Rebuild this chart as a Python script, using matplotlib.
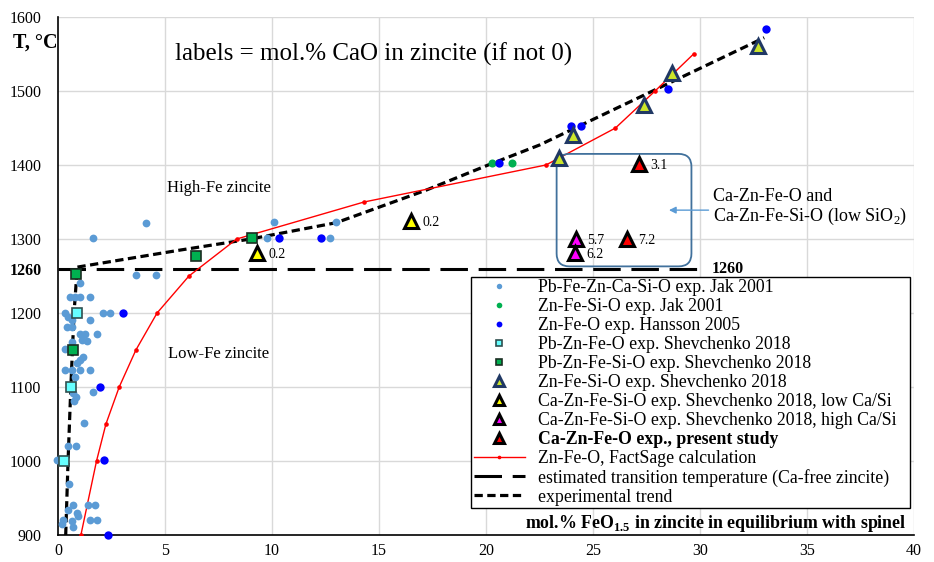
import matplotlib
matplotlib.use("Agg")
import matplotlib.pyplot as plt
from matplotlib.patches import FancyBboxPatch

plt.rcParams['font.family'] = ['Liberation Serif', 'DejaVu Serif']
plt.rcParams['mathtext.fontset'] = 'custom'
plt.rcParams['mathtext.rm'] = 'Liberation Serif'
plt.rcParams['mathtext.bf'] = 'Liberation Serif:bold'

# ---------------- data ----------------
# Pb-Fe-Zn-Ca-Si-O exp. Jak 2001
jak_x = [1.03, 0.56, 0.79, 1.03, 1.50, 0.33, 0.48, 0.64, 2.12, 2.43, 1.50, 0.40, 0.64,
         1.03, 1.26, 1.81, 1.10, 1.34, 0.64, 0.33, 1.18, 1.03, 0.90, 0.33, 0.64, 1.03,
         1.50, 0.79, 1.62, 0.72, 0.84, 0.75, 1.23, 0.48, 0.84, -0.05, 0.53, 0.72, 0.48,
         0.90, 0.95, 1.42, 1.73, 1.50, 1.84, 0.64, 0.25, 0.17, 0.72,
         1.64, 4.13, 3.64, 4.58, 9.75, 10.10, 12.70, 13.00]
jak_y = [1241, 1221, 1221, 1221, 1221, 1200, 1195, 1190, 1200, 1200, 1191, 1181, 1181,
         1171, 1171, 1171, 1163, 1162, 1161, 1152, 1141, 1136, 1132, 1123, 1123, 1123,
         1123, 1114, 1093, 1092, 1086, 1081, 1051, 1020, 1020, 1001, 969, 940, 934,
         930, 926, 940, 940, 920, 920, 919, 920, 915, 911,
         1301, 1322, 1251, 1251, 1301, 1323, 1301, 1323]

# Zn-Fe-Si-O exp. Jak 2001
zfs_jak_x = [20.3, 21.2]
zfs_jak_y = [1403, 1403]

# Zn-Fe-O exp. Hansson 2005
han_x = [2.33, 2.15, 1.96, 3.03, 10.35, 12.3, 20.6, 23.95, 24.45, 28.5, 33.1]
han_y = [900, 1001, 1100, 1200, 1301, 1301, 1403, 1453, 1453, 1503, 1584]

# Pb-Zn-Fe-O exp. Shevchenko 2018
pzf_x = [0.28, 0.60, 0.90]
pzf_y = [1000, 1100, 1200]

# Pb-Zn-Fe-Si-O exp. Shevchenko 2018
pzfs_x = [0.68, 0.84, 6.47, 9.05]
pzfs_y = [1150, 1253, 1277, 1302]

# Zn-Fe-Si-O exp. Shevchenko 2018
zfs_she_x = [23.4, 24.05, 27.4, 28.7, 32.7]
zfs_she_y = [1410, 1440, 1481, 1525, 1561]

# Ca-Zn-Fe-Si-O exp. Shevchenko 2018, low Ca/Si
low_x = [9.3, 16.5]
low_y = [1281, 1324]
low_lab = ["0.2", "0.2"]

# Ca-Zn-Fe-Si-O exp. Shevchenko 2018, high Ca/Si
high_x = [24.2, 24.15]
high_y = [1300, 1281]
high_lab = ["5.7", "6.2"]

# Ca-Zn-Fe-O exp., present study
pres_x = [26.6, 27.15]
pres_y = [1300, 1401]
pres_lab = ["7.2", "3.1"]

# Zn-Fe-O, FactSage calculation
fs_x = [1.07, 1.80, 2.24, 2.86, 3.64, 4.63, 6.12, 8.35, 14.3, 22.8, 26.05, 27.9, 29.7]
fs_y = [900, 1000, 1050, 1100, 1150, 1200, 1250, 1300, 1350, 1400, 1450, 1500, 1550]

# estimated transition temperature
trans_x = [0, 30.1]
trans_y = [1260, 1260]

# experimental trend
trend_x = [0.36, 0.47, 0.60, 0.75, 0.90, 5.7, 9.0, 13.0, 17.2, 20.1, 22.5, 33.0]
trend_y = [900, 1000, 1100, 1200, 1262, 1285, 1300, 1322, 1366, 1400, 1427, 1572]

x_ticks = [0, 5, 10, 15, 20, 25, 30, 35, 40]
y_ticks = [900, 1000, 1100, 1200, 1300, 1400, 1500, 1600]

# ---------------- figure ----------------
fig = plt.figure(figsize=(9.34, 5.62), dpi=100)
ax = fig.add_axes([58/934, 1-535/562, 856/934, 518/562])
ax.set_xlim(0, 40)
ax.set_ylim(900, 1600)
ax.set_xticks(x_ticks)
ax.set_yticks(y_ticks + [1260])
ylabels = [str(v) for v in y_ticks] + ["1260"]
ax.set_yticklabels(ylabels)
ax.tick_params(axis='both', length=0, labelsize=11.5, colors='black')
ax.tick_params(axis='y', pad=12)
ax.tick_params(axis='x', pad=6)
for lab in ax.get_yticklabels():
    if lab.get_text() == "1260":
        lab.set_fontweight('bold')
ax.grid(False)
for v in x_ticks[1:]:
    ax.axvline(v, color='#D9D9D9', lw=1.0, zorder=0)
for v in y_ticks[1:]:
    ax.axhline(v, color='#D9D9D9', lw=1.0, zorder=0)
for s in ['top', 'right']:
    ax.spines[s].set_visible(False)
for s in ['left', 'bottom']:
    ax.spines[s].set_color('black')
    ax.spines[s].set_linewidth(1.2)
    ax.spines[s].set_zorder(1)

# lines
ax.plot(trans_x, trans_y, color='black', lw=2.2, dashes=(9, 3.5), zorder=2,
        label='estimated transition temperature (Ca-free zincite)')
ax.plot(trend_x, trend_y, color='black', lw=2.3, dashes=(2.6, 1.4), zorder=2,
        label='experimental trend')
ax.plot(fs_x, fs_y, color='#FF0000', lw=1.0, marker='o', ms=2.3, zorder=2.5,
        label='Zn-Fe-O, FactSage calculation')

# markers
h1, = ax.plot(jak_x, jak_y, 'o', ms=5.6, color='#5B9BD5', mec='none', zorder=3, clip_on=False,
              label='Pb-Fe-Zn-Ca-Si-O exp. Jak 2001')
h2, = ax.plot(zfs_jak_x, zfs_jak_y, 'o', ms=5.8, color='#00B050', mec='none', zorder=3, clip_on=False,
              label='Zn-Fe-Si-O exp. Jak 2001')
h3, = ax.plot(han_x, han_y, 'o', ms=6.0, color='#0000FF', mec='none', zorder=3.2, clip_on=False,
              label='Zn-Fe-O exp. Hansson 2005')
h4, = ax.plot(pzf_x, pzf_y, 's', ms=7.0, mfc='#66FFFF', mec='#2F4F4F', mew=1.2, zorder=4, clip_on=False,
              label='Pb-Zn-Fe-O exp. Shevchenko 2018')
h5, = ax.plot(pzfs_x, pzfs_y, 's', ms=7.0, mfc='#00B050', mec='#1A2E22', mew=1.2, zorder=4, clip_on=False,
              label='Pb-Zn-Fe-Si-O exp. Shevchenko 2018')
h6, = ax.plot(zfs_she_x, zfs_she_y, '^', ms=9.5, mfc='#CCE62A', mec='#203864', mew=2.2, zorder=4, clip_on=False,
              label='Zn-Fe-Si-O exp. Shevchenko 2018')
h7, = ax.plot(low_x, low_y, '^', ms=9.5, mfc='#FFFF00', mec='black', mew=2.2, zorder=4, clip_on=False,
              label='Ca-Zn-Fe-Si-O exp. Shevchenko 2018, low Ca/Si')
h8, = ax.plot(high_x, high_y, '^', ms=9.5, mfc='#FF00FF', mec='black', mew=2.2, zorder=4, clip_on=False,
              label='Ca-Zn-Fe-Si-O exp. Shevchenko 2018, high Ca/Si')
h9, = ax.plot(pres_x, pres_y, '^', ms=9.5, mfc='#FF0000', mec='black', mew=2.2, zorder=4, clip_on=False,
              label='Ca-Zn-Fe-O exp., present study')

# point labels
for xs, ys, ls in [(low_x, low_y, low_lab), (high_x, high_y, high_lab), (pres_x, pres_y, pres_lab)]:
    for xv, yv, lv in zip(xs, ys, ls):
        ax.annotate(lv, (xv, yv), xytext=(8, -1), textcoords='offset points',
                    ha='left', va='center', fontsize=10, zorder=5)

# rounded box + arrow + text
box = FancyBboxPatch((23.3, 1263), 29.6 - 23.3, 1415 - 1263,
                     boxstyle="round,pad=0,rounding_size=0.6", mutation_aspect=28.9,
                     fc='none', ec='#41719C', lw=1.3, zorder=3)
ax.add_patch(box)
ax.annotate('', xy=(28.55, 1339), xytext=(30.4, 1339),
            arrowprops=dict(arrowstyle='-|>', color='#5B9BD5', lw=1.0,
                            mutation_scale=10, shrinkA=0, shrinkB=0), zorder=3)
ax.text(30.6, 1343, 'Ca-Zn-Fe-O and\nCa-Zn-Fe-Si-O (low SiO$_2$)', fontsize=13,
        ha='left', va='center', linespacing=1.05)
ax.text(30.56, 1260, '1260', fontsize=11.5, fontweight='bold', ha='left', va='center')

ax.text(5.47, 1549, 'labels = mol.% CaO in zincite (if not 0)', fontsize=18, ha='left', va='center')
ax.text(5.1, 1369, 'High-Fe zincite', fontsize=12, ha='left', va='center')
ax.text(5.15, 1145, 'Low-Fe zincite', fontsize=12, ha='left', va='center')
ax.text(39.67, 916, 'mol.% FeO$_{\\mathbf{1.5}}$ in zincite in equilibrium with spinel',
        fontsize=12.9, fontweight='bold', ha='right', va='center')
fig.text(13/934, 1-43/562, 'T, °C', fontsize=14.5, fontweight='bold', ha='left', va='center')

# legend
handles, labels = ax.get_legend_handles_labels()
order = [3, 4, 5, 6, 7, 8, 9, 10, 11, 2, 0, 1]
leg = ax.legend([handles[i] for i in order], [labels[i] for i in order],
                loc='upper left', bbox_to_anchor=(0.483, 0.054, 0.512, 0.444), mode='expand',
                borderaxespad=0,
                fontsize=12.8, markerscale=0.7, handlelength=2.9, handletextpad=0.7,
                labelspacing=0.11, borderpad=0.12, fancybox=False, framealpha=1,
                edgecolor='black', frameon=True)
leg.get_frame().set_linewidth(1.0)
leg.set_zorder(6)
for t in leg.get_texts():
    if 'present study' in t.get_text():
        t.set_fontweight('bold')

fig.savefig('out.png', dpi=100)
